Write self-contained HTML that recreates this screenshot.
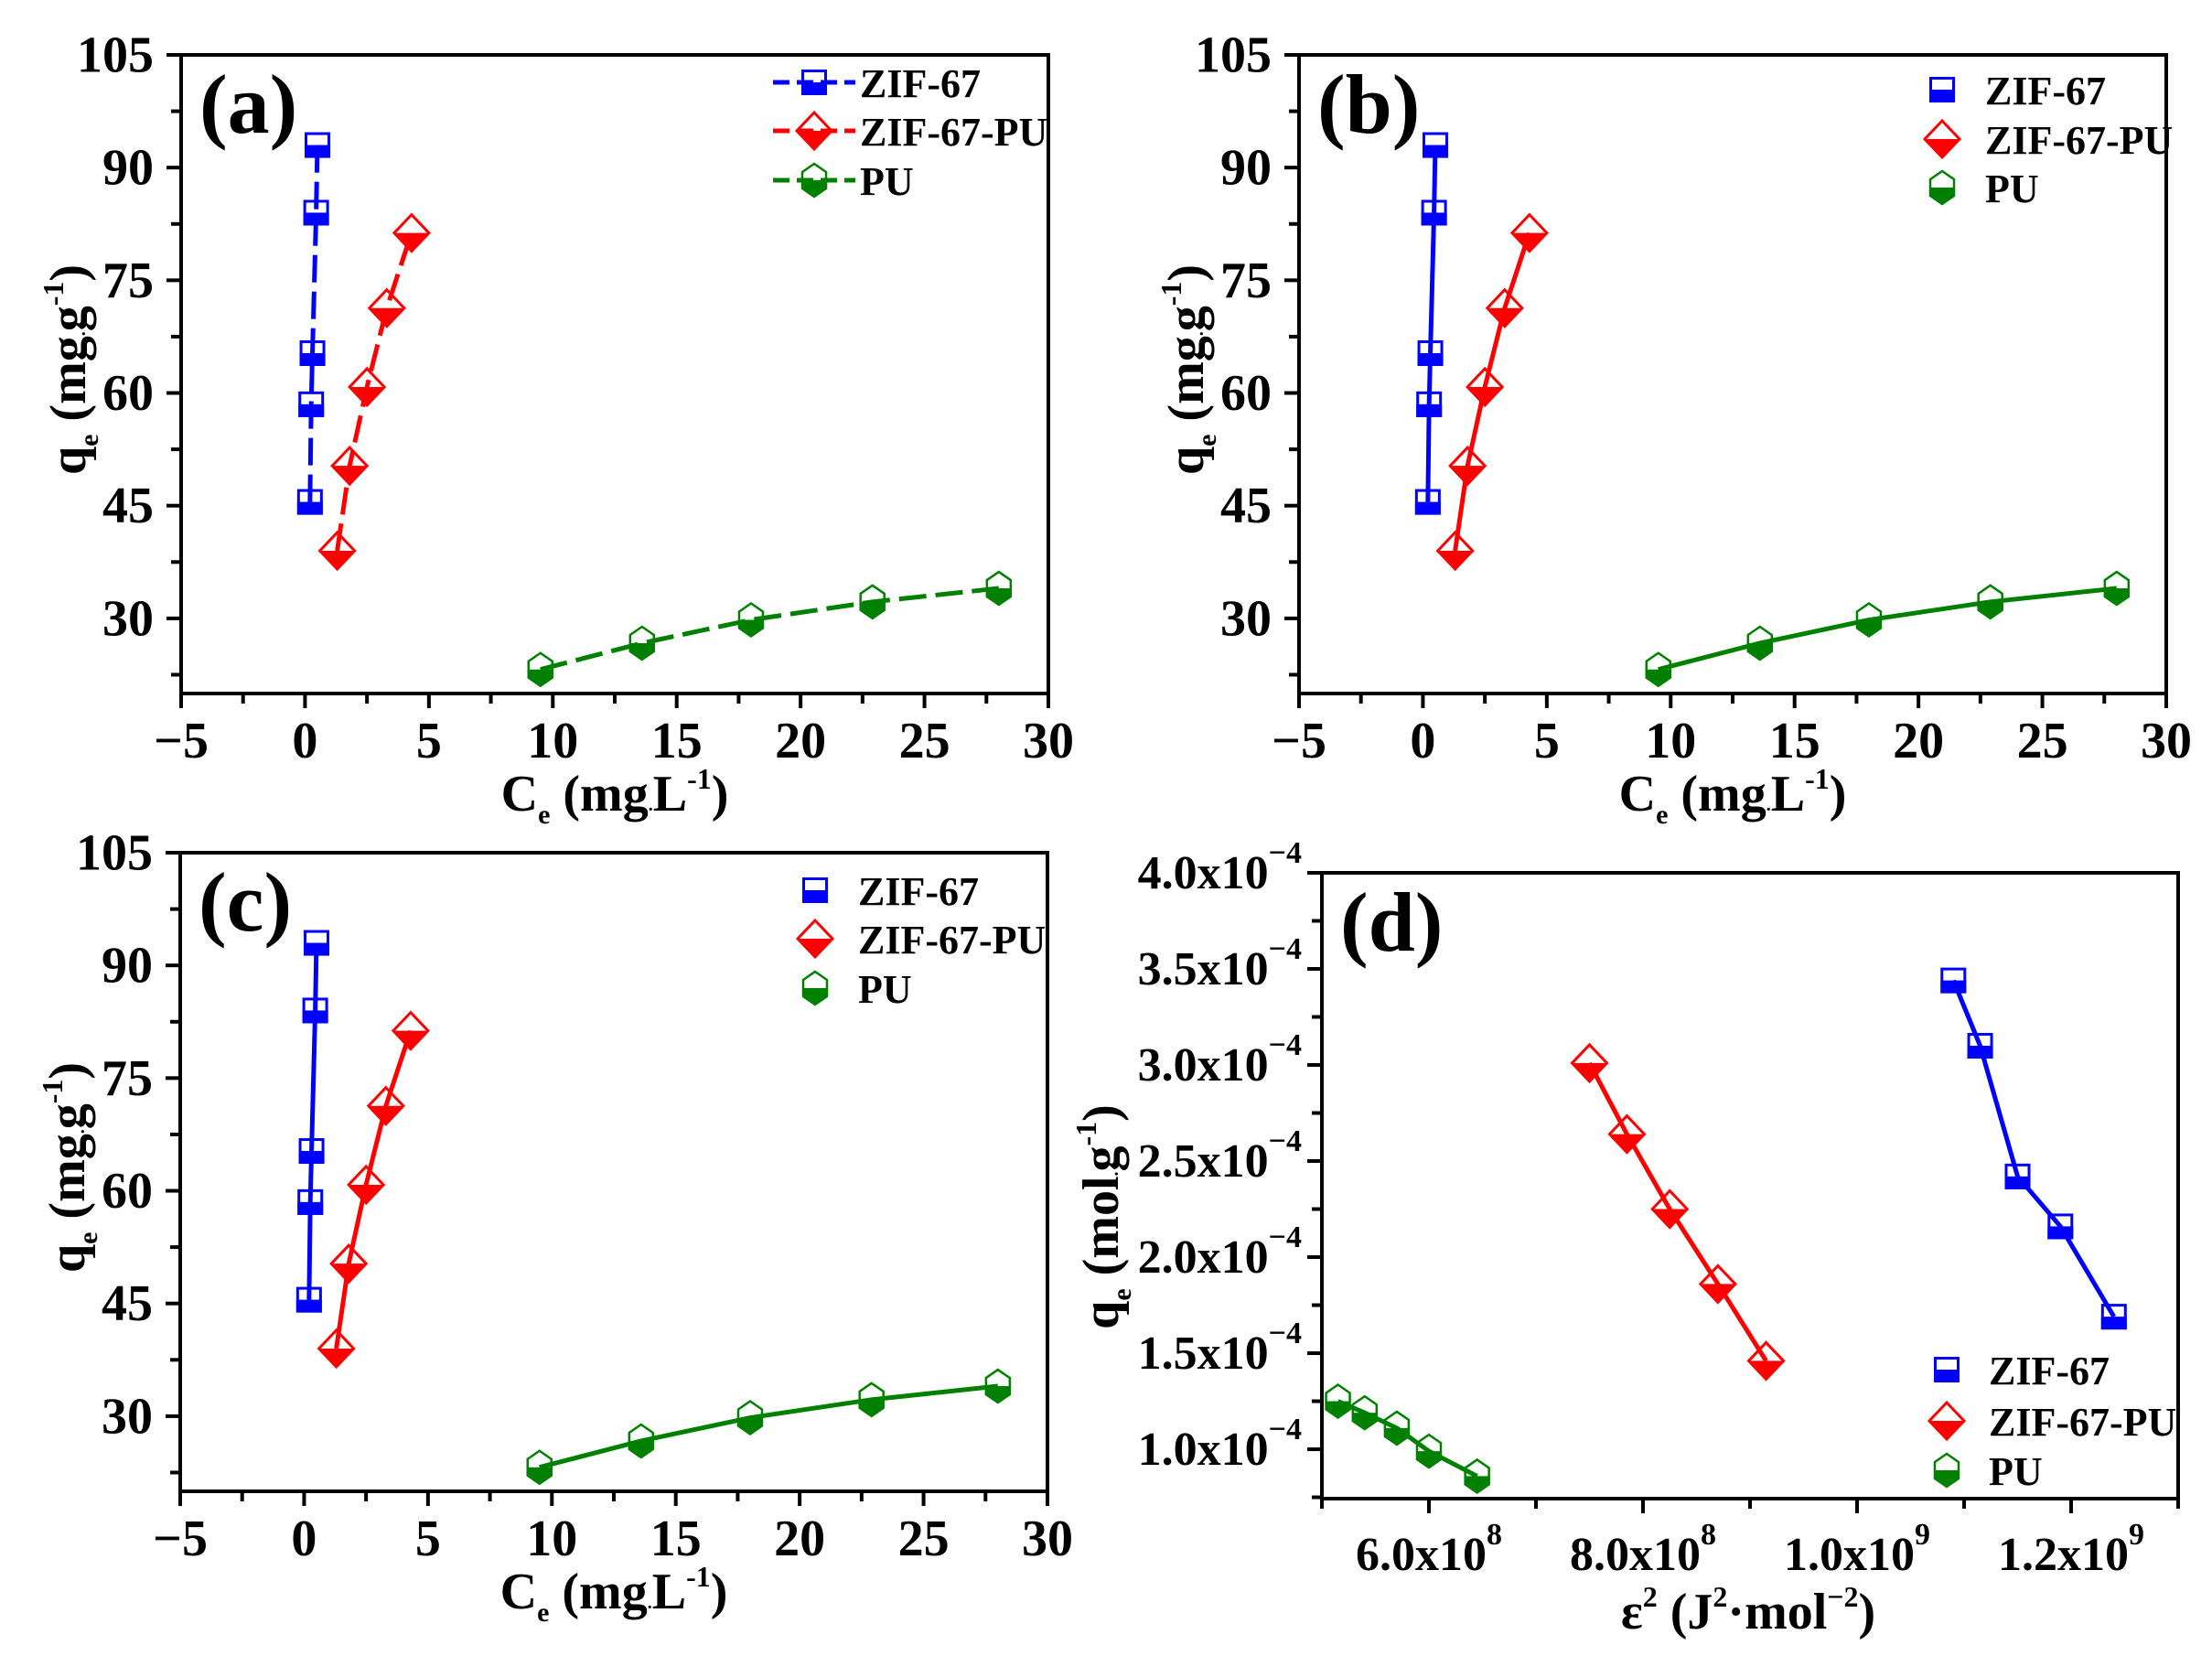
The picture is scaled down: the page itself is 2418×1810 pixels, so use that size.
<!DOCTYPE html>
<html><head><meta charset="utf-8">
<style>
html,body{margin:0;padding:0;background:#fff;}
svg{display:block;}
text{font-family:"Liberation Serif",serif;font-weight:bold;fill:#000;}
</style></head>
<body>
<svg id="s" width="2418" height="1810" viewBox="0 0 2418 1810" xmlns="http://www.w3.org/2000/svg"></svg>
<script>
const S=document.getElementById('s');let h='';
const C={b:'#0000ff',r:'#ff0000',g:'#008000'};
function marker(type,x,y,col){
  let o='';
  if(type==='sq'){const a=14;
    o+=`<rect x="${x-a}" y="${y}" width="${2*a}" height="${a}" fill="${col}"/>`;
    o+=`<rect x="${x-a+1.5}" y="${y-a+1.5}" width="${2*a-3}" height="${2*a-3}" fill="none" stroke="${col}" stroke-width="3"/>`;
  } else if(type==='di'){const w=19,hh=20;
    o+=`<polygon points="${x-w},${y} ${x+w},${y} ${x},${y+hh}" fill="${col}"/>`;
    o+=`<polygon points="${x},${y-hh} ${x+w},${y} ${x},${y+hh} ${x-w},${y}" fill="none" stroke="${col}" stroke-width="3"/>`;
  } else {const w=13,hh=18;
    const p=[[x,y-hh],[x+w,y-hh/2],[x+w,y+hh/2],[x,y+hh],[x-w,y+hh/2],[x-w,y-hh/2]];
    o+=`<polygon points="${x-w},${y} ${x+w},${y} ${x+w},${y+hh/2} ${x},${y+hh} ${x-w},${y+hh/2}" fill="${col}"/>`;
    o+=`<polygon points="${p.map(q=>q.join(',')).join(' ')}" fill="none" stroke="${col}" stroke-width="2.5"/>`;
  }
  return o;
}
function panel(P){
  const X=v=>P.x0+(v-P.xmin)/(P.xmax-P.xmin)*(P.x1-P.x0);
  const Y=v=>P.y1-(v-P.ymin)/(P.ymax-P.ymin)*(P.y1-P.y0);
  h+=`<rect x="${P.x0}" y="${P.y0}" width="${P.x1-P.x0}" height="${P.y1-P.y0}" fill="none" stroke="#000" stroke-width="4"/>`;
  for(let v=P.xmin;v<=P.xmax+1e-9*Math.abs(P.xmax);v+=P.xminor){
    const isMaj=P.xmaj.some(m=>Math.abs(m-v)<P.xminor*0.01);
    h+=`<line x1="${X(v)}" y1="${P.y1}" x2="${X(v)}" y2="${P.y1+(isMaj?16:11)}" stroke="#000" stroke-width="4"/>`;
  }
  for(let v=P.yminorStart;v<=P.ymax+1e-12;v+=P.yminor){
    const isMaj=P.ymaj.some(m=>Math.abs(m-v)<P.yminor*0.01);
    h+=`<line x1="${P.x0}" y1="${Y(v)}" x2="${P.x0-(isMaj?16:11)}" y2="${Y(v)}" stroke="#000" stroke-width="4"/>`;
  }
  P.xlab.forEach((l,i)=>{h+=`<text x="${X(P.xmaj[i])+(l.dx||0)}" y="${P.y1+(P.xly||70)}" font-size="${P.fs}" text-anchor="middle">${l.t}</text>`;});
  P.ylab.forEach((l,i)=>{h+=`<text x="${P.x0-(P.ylx||30)}" y="${Y(P.ymaj[i])+P.fs*0.33}" font-size="${P.fs}" text-anchor="end">${l}</text>`;});
  h+=P.extra||'';
  P.series.forEach(s=>{
    const pts=s.d.map(p=>X(p[0])+','+Y(p[1])).join(' ');
    h+=`<polyline points="${pts}" fill="none" stroke="${C[s.c]}" stroke-width="5" ${P.dash?'stroke-dasharray="30 10"':''}/>`;
    s.d.forEach(p=>{h+=marker(s.m,X(p[0]),Y(p[1]),C[s.c]);});
  });
  P.leg.forEach((l,i)=>{
    if(P.dash) h+=`<line x1="${l.x-45}" y1="${l.y}" x2="${l.x+45}" y2="${l.y}" stroke="${C[l.c]}" stroke-width="5" stroke-dasharray="18 8"/>`;
    h+=marker(l.m,l.x,l.y,C[l.c]);
    h+=`<text x="${l.tx}" y="${l.y+16}" font-size="44">${l.t}</text>`;
  });
  h+=`<text x="${P.x0+20}" y="${P.y0+85}" font-size="92">${P.tag}</text>`;
}
const A=[[0.2,45.5],[0.25,58.5],[0.3,65.3],[0.45,84],[0.5,93]];
const B=[[1.3,39],[1.8,50.3],[2.5,60.8],[3.3,71.3],[4.3,81.3]];
const G=[[9.5,23.2],[13.6,26.7],[18,29.8],[22.9,32.2],[28,34]];
function isoPanel(x0,x1,y0,y1,tag,dash,leg){
  panel({x0,x1,y0,y1,xmin:-5,xmax:30,ymin:20,ymax:105,xminor:2.5,xmaj:[-5,0,5,10,15,20,25,30],
    xlab:['−5','0','5','10','15','20','25','30'].map(t=>({t})),yminor:7.5,yminorStart:22.5,ymaj:[30,45,60,75,90,105],
    ylab:['30','45','60','75','90','105'],fs:56,dash,tag,leg,
    series:[{d:A,c:'b',m:'sq'},{d:B,c:'r',m:'di'},{d:G,c:'g',m:'hx'}],
    extra:`<text x="${(x0+x1)/2}" y="${y1+128}" font-size="56" text-anchor="middle">C<tspan font-size="30" dy="14">e</tspan><tspan dy="-14"> (mg</tspan><tspan font-size="20">.</tspan>L<tspan font-size="32" dy="-24">-1</tspan><tspan dy="24">)</tspan></text>
    <text transform="translate(${x0-105},${(y0+y1)/2-5}) rotate(-90)" font-size="56" text-anchor="middle">q<tspan font-size="30" dy="14">e</tspan><tspan dy="-14"> (mg</tspan><tspan font-size="20">.</tspan>g<tspan font-size="32" dy="-24">-1</tspan><tspan dy="24">)</tspan></text>`});
}
isoPanel(198,1146,60,758,'(a)',true,[{x:890,y:90,c:'b',m:'sq',t:'ZIF-67',tx:940},{x:890,y:143,c:'r',m:'di',t:'ZIF-67-PU',tx:940},{x:890,y:197,c:'g',m:'hx',t:'PU',tx:940}]);
isoPanel(1420,2368,60,758,'(b)',false,[{x:2123,y:98,c:'b',m:'sq',t:'ZIF-67',tx:2170},{x:2123,y:152,c:'r',m:'di',t:'ZIF-67-PU',tx:2170},{x:2123,y:205,c:'g',m:'hx',t:'PU',tx:2170}]);
isoPanel(197,1145,932,1630,'(c)',false,[{x:891,y:973,c:'b',m:'sq',t:'ZIF-67',tx:938},{x:891,y:1026,c:'r',m:'di',t:'ZIF-67-PU',tx:938},{x:891,y:1080,c:'g',m:'hx',t:'PU',tx:938}]);
const ex=(t,e)=>`${t}<tspan font-size="34" dy="-28">${e}</tspan>`;
panel({x0:1445,x1:2381,y0:954,y1:1638,xmin:5e8,xmax:1.3e9,ymin:0.743,ymax:4.0,xminor:1e8,xmaj:[6e8,8e8,1e9,1.2e9],
  xlab:[{t:ex('6.0x10','8')},{t:ex('8.0x10','8')},{t:ex('1.0x10','9')},{t:ex('1.2x10','9')}],xly:78,
  yminor:0.25,yminorStart:0.75,ymaj:[1,1.5,2,2.5,3,3.5,4],ylab:['1.0','1.5','2.0','2.5','3.0','3.5','4.0'].map(t=>ex(t+'x10','−4')),ylx:22,fs:52,dash:false,tag:'(d)',
  series:[{d:[[1.09e9,3.44],[1.115e9,3.1],[1.15e9,2.42],[1.19e9,2.16],[1.24e9,1.69]],c:'b',m:'sq'},
          {d:[[7.5e8,3.01],[7.85e8,2.64],[8.25e8,2.25],[8.7e8,1.86],[9.15e8,1.46]],c:'r',m:'di'},
          {d:[[5.15e8,1.25],[5.4e8,1.19],[5.7e8,1.11],[6.0e8,0.99],[6.45e8,0.86]],c:'g',m:'hx'}],
  leg:[{x:2128,y:1497,c:'b',m:'sq',t:'ZIF-67',tx:2174},{x:2128,y:1553,c:'r',m:'di',t:'ZIF-67-PU',tx:2174},{x:2128,y:1607,c:'g',m:'hx',t:'PU',tx:2174}],
  extra:`<text x="1911" y="1780" font-size="56" text-anchor="middle">ε<tspan font-size="32" dy="-24">2</tspan><tspan dy="24"> (J</tspan><tspan font-size="32" dy="-24">2</tspan><tspan dy="24">·mol</tspan><tspan font-size="32" dy="-24">−2</tspan><tspan dy="24">)</tspan></text>
  <text transform="translate(1222,1330) rotate(-90)" font-size="56" text-anchor="middle">q<tspan font-size="30" dy="14">e</tspan><tspan dy="-14"> (mol</tspan><tspan font-size="20">.</tspan>g<tspan font-size="32" dy="-24">-1</tspan><tspan dy="24">)</tspan></text>`});
S.innerHTML=h;
</script>
</body></html>
